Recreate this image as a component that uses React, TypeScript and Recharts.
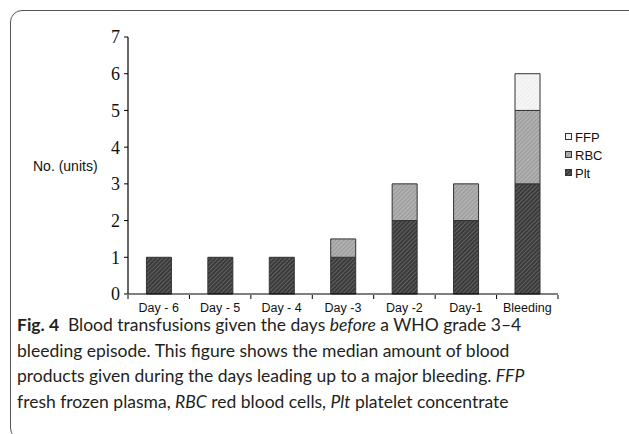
import { BarChart, Bar, XAxis, YAxis, ReferenceLine } from "recharts";

const days = ["Day - 6", "Day - 5", "Day - 4", "Day -3", "Day -2", "Day-1", "Bleeding"];
const plt = [1, 1, 1, 1, 2, 2, 3];
const rbc = [0, 0, 0, 0.5, 1, 1, 2];
const ffp = [0, 0, 0, 0, 0, 0, 1];
const yTicks = [0, 1, 2, 3, 4, 5, 6, 7];

const series = [
  { key: "ffp", name: "FFP", fill: "url(#hatchFfp)" },
  { key: "rbc", name: "RBC", fill: "url(#hatchRbc)" },
  { key: "plt", name: "Plt", fill: "url(#hatchPlt)" },
];

const captionLines = [
  <>
    <b style={{ fontWeight: 700 }}>Fig. 4</b>
    {"\u2002"}Blood transfusions given the days <i>before</i> a WHO grade 3–4
  </>,
  <>bleeding episode. This figure shows the median amount of blood</>,
  <>
    products given during the days leading up to a major bleeding. <i>FFP</i>
  </>,
  <>
    fresh frozen plasma, <i>RBC</i> red blood cells, <i>Plt</i> platelet concentrate
  </>,
];

const data = days.map((day, i) => ({
  day,
  plt: plt[i],
  rbc: rbc[i],
  ffp: ffp[i],
}));

const W = 629;
const H = 320;
const MARGIN = { top: 37, right: 71, left: 68, bottom: 6 };
const Y_W = 60;

function Hatch({ id, bg, line }: { id: string; bg: string; line: string }) {
  return (
    <pattern id={id} width="3" height="3" patternUnits="userSpaceOnUse" patternTransform="rotate(45)">
      <rect width="3" height="3" fill={bg} />
      <line x1="0" y1="0" x2="0" y2="3" stroke={line} strokeWidth="1" />
    </pattern>
  );
}

// category label plus a tick mark on the category boundaries
function DayTick(props: any) {
  const { x, y, payload, index, visibleTicksCount } = props;
  const half = payload.offset || 0;
  const isLast = index === (visibleTicksCount ?? days.length) - 1;
  return (
    <g>
      <line x1={x - half} x2={x - half} y1={y - 8} y2={y - 4} stroke="#000" />
      {isLast && <line x1={x + half} x2={x + half} y1={y - 8} y2={y - 4} stroke="#000" />}
      <text
        x={x}
        y={y}
        dy="0.71em"
        textAnchor="middle"
        fill="#111"
        fontSize={12.5}
        fontFamily="Liberation Sans, Arial, sans-serif"
      >
        {payload.value}
      </text>
    </g>
  );
}

function LegendBox() {
  return (
    <div style={{ fontFamily: "Liberation Sans, Arial, sans-serif", fontSize: 13, color: "#111" }}>
      <svg width="0" height="0" style={{ position: "absolute" }}>
        <defs>
          <Hatch id="lgPlt" bg="#3a3a3a" line="#8a8a8a" />
          <Hatch id="lgRbc" bg="#a0a0a0" line="#d2d2d2" />
          <Hatch id="lgFfp" bg="#f6f6f6" line="#e2e2e2" />
        </defs>
      </svg>
      {series.map((s) => (
        <div key={s.key} style={{ display: "flex", alignItems: "center", height: 18 }}>
          <svg width="8" height="8" style={{ marginRight: 2 }}>
            <rect x="0.5" y="0.5" width="6" height="6" fill={s.fill} stroke="#333" strokeWidth="1" />
          </svg>
          <span>{s.name}</span>
        </div>
      ))}
    </div>
  );
}

export default function App() {
  return (
    <div style={{ position: "absolute", left: 0, top: 0, width: 629, height: 434, background: "#fff", overflow: "hidden" }}>
      <div
        style={{
          position: "absolute",
          left: 10,
          top: 10,
          width: 640,
          height: 430,
          border: "1.5px solid #555",
          borderRadius: 12,
          boxSizing: "border-box",
        }}
      />
      <div style={{ position: "absolute", left: 33, top: 158, fontFamily: "Liberation Sans, Arial, sans-serif", fontSize: 14, color: "#111" }}>
        No. (units)
      </div>
      {/* gridlines layer, under the bars */}
      <div style={{ position: "absolute", left: 0, top: 0 }}>
        <BarChart width={W} height={H} data={data} margin={MARGIN}>
          <XAxis dataKey="day" height={20} axisLine={false} tickLine={false} tick={false} />
          <YAxis width={Y_W} domain={[0, 7]} ticks={yTicks} axisLine={false} tickLine={false} tick={false} />
          {yTicks.slice(1).map((v) => (
            <ReferenceLine key={v} y={v} stroke="#c8c8c8" strokeWidth={1.2} ifOverflow="visible" />
          ))}
        </BarChart>
      </div>
      <div style={{ position: "absolute", left: 0, top: 0 }}>
        <BarChart width={W} height={H} data={data} margin={MARGIN} barCategoryGap="30%">
          <defs>
            <Hatch id="hatchPlt" bg="#3a3a3a" line="#8a8a8a" />
            <Hatch id="hatchRbc" bg="#a0a0a0" line="#d2d2d2" />
            <Hatch id="hatchFfp" bg="#f6f6f6" line="#e2e2e2" />
          </defs>
          <XAxis
            dataKey="day"
            height={20}
            axisLine={{ stroke: "#000", strokeWidth: 1.2 }}
            tickLine={false}
            tickMargin={3}
            tick={<DayTick />}
            interval={0}
          />
          <YAxis
            width={Y_W}
            domain={[0, 7]}
            ticks={yTicks}
            axisLine={{ stroke: "#000", strokeWidth: 1.2 }}
            tickLine={{ stroke: "#000" }}
            tickSize={4}
            tickMargin={4}
            tick={{ fill: "#111", fontSize: 18, fontFamily: "Liberation Serif, Times New Roman, serif" }}
          />
          <Bar dataKey="plt" stackId="a" fill="url(#hatchPlt)" stroke="#333" strokeWidth={1} isAnimationActive={false} />
          <Bar dataKey="rbc" stackId="a" fill="url(#hatchRbc)" stroke="#333" strokeWidth={1} isAnimationActive={false} />
          <Bar dataKey="ffp" stackId="a" fill="url(#hatchFfp)" stroke="#333" strokeWidth={1} isAnimationActive={false} />
        </BarChart>
      </div>
      <div style={{ position: "absolute", left: 565, top: 128 }}>
        <LegendBox />
      </div>
      <div
        style={{
          position: "absolute",
          left: 17,
          top: 312,
          fontFamily: "Lato, 'Open Sans', sans-serif",
          fontSize: 17.5,
          lineHeight: "25.5px",
          color: "#231f20",
          whiteSpace: "nowrap",
        }}
      >
        {captionLines.map((l, i) => (
          <div key={i}>{l}</div>
        ))}
      </div>
    </div>
  );
}
